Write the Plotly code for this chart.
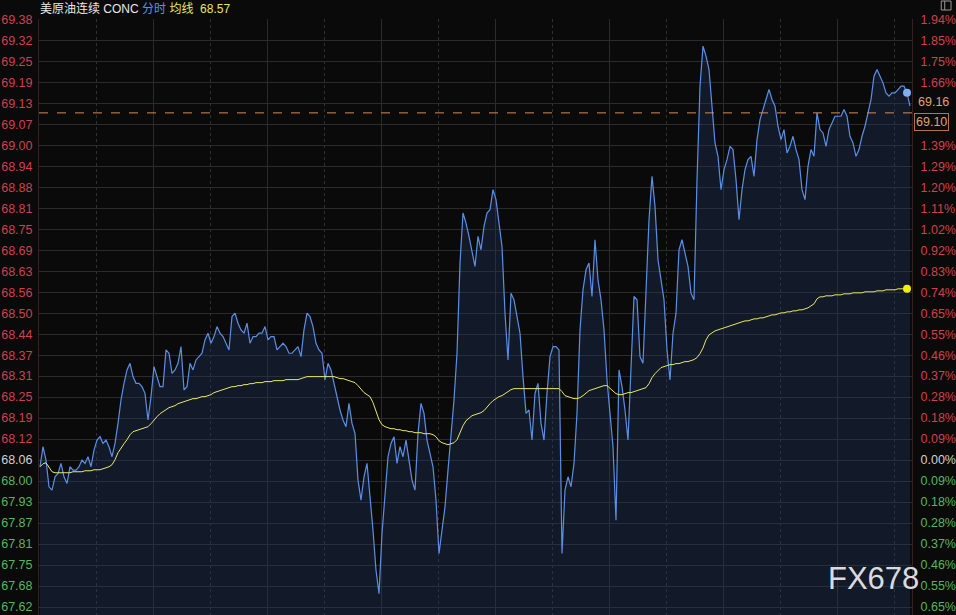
import plotly.graph_objects as go

# ---------------- data ----------------
base_price = 68.06          # previous settle (0.00% line)
ref_price = 69.10           # dashed reference line
title_name = "美原油连续 CONC"

price = [
    68.04, 68.10, 68.06, 67.98, 67.97, 68.01, 68.02, 68.05, 68.01, 67.99,
    68.04, 68.03, 68.03, 68.04, 68.06, 68.05, 68.07, 68.04, 68.09, 68.12,
    68.13, 68.11, 68.12, 68.10, 68.07, 68.11, 68.17, 68.24, 68.29, 68.33,
    68.35, 68.31, 68.29, 68.29, 68.28, 68.26, 68.18, 68.25, 68.34, 68.31,
    68.28, 68.28, 68.39, 68.38, 68.32, 68.33, 68.35, 68.40, 68.27, 68.28,
    68.35, 68.33, 68.36, 68.37, 68.38, 68.42, 68.44, 68.41, 68.43, 68.46,
    68.44, 68.43, 68.41, 68.39, 68.49, 68.50, 68.47, 68.45, 68.44, 68.47,
    68.41, 68.43, 68.43, 68.44, 68.44, 68.46, 68.42, 68.43, 68.43, 68.39,
    68.40, 68.41, 68.40, 68.38, 68.38, 68.39, 68.40, 68.37, 68.45, 68.50,
    68.49, 68.46, 68.41, 68.39, 68.38, 68.30, 68.35, 68.33, 68.29, 68.24,
    68.21, 68.18, 68.16, 68.23, 68.17, 68.14, 68.00, 67.94, 68.01, 68.05,
    67.96, 67.85, 67.73, 67.66, 67.84, 67.97, 68.07, 68.11, 68.13, 68.05,
    68.10, 68.07, 68.12, 68.06, 68.00, 67.97, 68.14, 68.23, 68.20, 68.12,
    68.08, 68.04, 67.94, 67.78, 67.85, 67.92, 68.03, 68.14, 68.24, 68.38,
    68.65, 68.80, 68.77, 68.73, 68.69, 68.64, 68.73, 68.69, 68.76, 68.80,
    68.81, 68.87, 68.84, 68.77, 68.70, 68.50, 68.36, 68.56, 68.54, 68.49,
    68.44, 68.31, 68.20, 68.21, 68.12, 68.26, 68.29, 68.17, 68.12, 68.26,
    68.37, 68.40, 68.40, 68.39, 67.78, 67.97, 68.01, 67.98, 68.05, 68.20,
    68.45, 68.57, 68.63, 68.65, 68.55, 68.72, 68.60, 68.54, 68.45, 68.30,
    68.21, 68.10, 67.88, 68.33, 68.28, 68.21, 68.12, 68.36, 68.55, 68.54,
    68.37, 68.35, 68.56, 68.78, 68.91, 68.82, 68.66, 68.60, 68.54, 68.39,
    68.30, 68.44, 68.50, 68.69, 68.72, 68.68, 68.64, 68.56, 68.54, 68.90,
    69.18, 69.30, 69.27, 69.23, 69.11, 69.01, 68.97, 68.87, 68.93, 68.96,
    69.00, 68.99, 68.90, 68.78, 68.87, 68.93, 68.96, 68.97, 68.91, 69.02,
    69.08, 69.11, 69.14, 69.17, 69.14, 69.12, 69.06, 69.02, 69.05, 68.98,
    69.00, 69.03, 68.99, 68.96, 68.87, 68.84, 68.94, 68.99, 68.97, 69.10,
    69.05, 69.04, 69.00, 69.05, 69.07, 69.09, 69.09, 69.09, 69.11, 69.09,
    69.03, 69.01, 68.97, 68.99, 69.03, 69.06, 69.10, 69.14, 69.21, 69.23,
    69.21, 69.19, 69.16, 69.15, 69.16, 69.16, 69.17, 69.18, 69.18, 69.16,
    69.12,
]

avg = [
    68.040, 68.049, 68.052, 68.037, 68.025, 68.022, 68.022, 68.022, 68.022, 68.022,
    68.022, 68.025, 68.025, 68.025, 68.025, 68.028, 68.028, 68.028, 68.031, 68.031,
    68.031, 68.034, 68.037, 68.040, 68.046, 68.061, 68.082, 68.097, 68.109, 68.121,
    68.136, 68.145, 68.148, 68.151, 68.154, 68.157, 68.160, 68.169, 68.181, 68.190,
    68.199, 68.205, 68.211, 68.217, 68.220, 68.223, 68.229, 68.232, 68.235, 68.238,
    68.241, 68.244, 68.244, 68.247, 68.250, 68.250, 68.253, 68.256, 68.262, 68.265,
    68.268, 68.271, 68.274, 68.277, 68.280, 68.280, 68.283, 68.283, 68.286, 68.286,
    68.289, 68.289, 68.292, 68.292, 68.292, 68.295, 68.295, 68.295, 68.298, 68.298,
    68.298, 68.298, 68.301, 68.301, 68.301, 68.301, 68.301, 68.304, 68.307, 68.310,
    68.310, 68.310, 68.310, 68.310, 68.310, 68.310, 68.310, 68.310, 68.310, 68.307,
    68.304, 68.304, 68.301, 68.298, 68.295, 68.292, 68.283, 68.271, 68.262, 68.256,
    68.250, 68.232, 68.205, 68.181, 68.166, 68.160, 68.157, 68.154, 68.154, 68.151,
    68.151, 68.148, 68.148, 68.145, 68.145, 68.142, 68.142, 68.142, 68.139, 68.139,
    68.139, 68.136, 68.130, 68.118, 68.112, 68.109, 68.106, 68.109, 68.112, 68.121,
    68.145, 68.163, 68.178, 68.187, 68.193, 68.196, 68.199, 68.202, 68.208, 68.220,
    68.229, 68.238, 68.244, 68.250, 68.253, 68.259, 68.265, 68.271, 68.274, 68.274,
    68.274, 68.274, 68.274, 68.274, 68.274, 68.274, 68.274, 68.274, 68.274, 68.274,
    68.274, 68.274, 68.274, 68.274, 68.265, 68.253, 68.250, 68.247, 68.244, 68.244,
    68.247, 68.253, 68.262, 68.268, 68.271, 68.274, 68.277, 68.280, 68.283, 68.283,
    68.274, 68.265, 68.259, 68.256, 68.256, 68.259, 68.262, 68.262, 68.265, 68.268,
    68.271, 68.274, 68.277, 68.289, 68.307, 68.319, 68.328, 68.337, 68.340, 68.343,
    68.346, 68.346, 68.349, 68.349, 68.352, 68.355, 68.355, 68.358, 68.361, 68.367,
    68.379, 68.396, 68.420, 68.435, 68.441, 68.447, 68.450, 68.453, 68.456, 68.459,
    68.462, 68.465, 68.468, 68.471, 68.474, 68.477, 68.477, 68.480, 68.483, 68.483,
    68.486, 68.486, 68.489, 68.492, 68.495, 68.495, 68.498, 68.501, 68.501, 68.504,
    68.504, 68.507, 68.507, 68.510, 68.510, 68.513, 68.516, 68.522, 68.528, 68.543,
    68.549, 68.549, 68.552, 68.552, 68.552, 68.555, 68.555, 68.555, 68.558, 68.558,
    68.558, 68.561, 68.561, 68.561, 68.561, 68.564, 68.564, 68.564, 68.564, 68.567,
    68.567, 68.567, 68.570, 68.570, 68.570, 68.570, 68.573, 68.573, 68.573, 68.573,
    None,
]

left_labels = ["69.38", "69.32", "69.25", "69.19", "69.13", "69.07", "69.00", "68.94",
               "68.88", "68.81", "68.75", "68.69", "68.63", "68.56", "68.50", "68.44",
               "68.37", "68.31", "68.25", "68.19", "68.12", "68.06", "68.00", "67.93",
               "67.87", "67.81", "67.75", "67.68", "67.62"]
right_labels = ["1.94%", "1.85%", "1.75%", "1.66%", "", "", "1.39%", "1.29%",
                "1.20%", "1.11%", "1.02%", "0.92%", "0.83%", "0.74%", "0.65%", "0.55%",
                "0.46%", "0.37%", "0.28%", "0.18%", "0.09%", "0.00%", "0.09%", "0.18%",
                "0.28%", "0.37%", "0.46%", "0.55%", "0.65%"]
step_levels = list(range(21, -8, -1))   # grid rows, in steps of the percent scale
pct_step = 1.94 / 21

# ---------------- styling ----------------
BG = "#0a0a0a"
GRID = "#2b2b2b"
RED = "#d0404a"
GREEN = "#55b75a"
NEUTRAL = "#d0d0d0"
BLUE = "#5b8fe6"
YELLOW = "#e8e860"
ORANGE = "#e0a070"
FONT = "Liberation Sans, Arial, Noto Sans CJK SC, sans-serif"

W, H = 956, 615
ML, MR, MT, MB = 39, 44, 19, 0

t = list(range(len(price)))
cur_i = len(price) - 2          # current point (blue / yellow dots)

def col(k):
    return RED if k > 0 else (NEUTRAL if k == 0 else GREEN)

left_vals = [base_price * (1 + k * pct_step / 100) for k in step_levels]
left_text = [f'<span style="color:{col(k)}">{s}</span>' for k, s in zip(step_levels, left_labels)]
right_vals = [k * pct_step for k in step_levels]
right_text = [f'<span style="color:{col(k)}">{s}</span>' if s else "" for k, s in zip(step_levels, right_labels)]

# y range: top gridline at plot top, bottom extends to page bottom
px_per_step = 21.0
top_price = base_price * (1 + 21 * pct_step / 100)
price_per_px = base_price * pct_step / 100 / px_per_step
plot_h = H - MT - MB
y_lo = top_price - plot_h * price_per_px
y_hi = top_price + 0.3 * price_per_px
pct_lo = (y_lo / base_price - 1) * 100
pct_hi = (y_hi / base_price - 1) * 100

fig = go.Figure()
fig.add_trace(go.Scatter(
    x=t, y=price, mode="lines", line=dict(color=BLUE, width=1.2),
    fill="tozeroy", fillcolor="rgba(32,55,100,0.36)", hoverinfo="skip"))
fig.add_trace(go.Scatter(
    x=t, y=avg, mode="lines", line=dict(color=YELLOW, width=1), hoverinfo="skip"))
fig.add_trace(go.Scatter(
    x=[t[cur_i]], y=[price[cur_i]], mode="markers",
    marker=dict(color="#7fb0f5", size=8), hoverinfo="skip"))
fig.add_trace(go.Scatter(
    x=[t[cur_i]], y=[avg[cur_i]], mode="markers",
    marker=dict(color="#f2f200", size=8), hoverinfo="skip"))
# invisible trace to activate right axis
fig.add_trace(go.Scatter(x=[t[0]], y=[0], yaxis="y2", mode="markers",
                         marker=dict(opacity=0), hoverinfo="skip"))

fig.add_shape(type="line", xref="paper", x0=0, x1=1, yref="y", y0=ref_price, y1=ref_price,
              line=dict(color="#d88a55", width=1, dash="dash"))
# small window icon in the top-right corner
fig.add_shape(type="rect", xref="paper", yref="paper", x0=1.0335, x1=1.0447, y0=1.0151, y1=1.0302,
              line=dict(color="#9a9a9a", width=1), fillcolor="rgba(0,0,0,0)")
fig.add_shape(type="line", xref="paper", yref="paper", x0=1.0375, x1=1.0375, y0=1.0151, y1=1.0302,
              line=dict(color="#9a9a9a", width=1))

title_html = (f'<span style="color:#e8e8e8">{title_name}</span> '
              f'<span style="color:{BLUE}">分时</span> '
              f'<span style="color:{YELLOW}">均线</span>  '
              f'<span style="color:{YELLOW}">{avg[cur_i]:.2f}</span>')

fig.update_layout(
    width=W, height=H, margin=dict(l=ML, r=MR, t=MT, b=MB, autoexpand=False),
    paper_bgcolor=BG, plot_bgcolor=BG, showlegend=False,
    font=dict(family=FONT, size=12, color=NEUTRAL),
    xaxis=dict(range=[-1/3, len(price) - 1 + 2/3], showticklabels=False, zeroline=False,
               showgrid=True, gridcolor=GRID, gridwidth=1, tick0=-1/3, dtick=38,
               minor=dict(showgrid=True, tick0=-1/3, dtick=19, gridcolor="#303030", griddash="dot"),
               showline=False),
    yaxis=dict(range=[y_lo, y_hi], tickmode="array", tickvals=left_vals, ticktext=left_text,
               showgrid=True, gridcolor=GRID, gridwidth=1, zeroline=False, ticks="",
               tickfont=dict(size=12.5), ticklabelstandoff=3, automargin=False,
               showline=True, linecolor="#3a1f22", linewidth=1),
    yaxis2=dict(range=[pct_lo, pct_hi], overlaying="y", side="right", tickmode="array",
                tickvals=right_vals, ticktext=right_text, showgrid=False, zeroline=False,
                ticks="", tickfont=dict(size=12.5), ticklabelstandoff=5, automargin=False,
                showline=True, linecolor="#3a1f22", linewidth=1),
    annotations=[
        dict(xref="paper", yref="paper", x=0, y=1, xanchor="left", yanchor="bottom",
             text=title_html, showarrow=False, font=dict(size=12, family=FONT), yshift=1, xshift=-1),
        dict(xref="paper", yref="y", x=1, y=price[cur_i], xanchor="left", yanchor="top",
             text=f"{price[cur_i]:.2f}", showarrow=False, xshift=4,
             font=dict(size=12.5, color=ORANGE, family=FONT)),
        dict(xref="paper", yref="y", x=1, y=ref_price, xanchor="left", yanchor="top",
             text=f"{ref_price:.2f}", showarrow=False, xshift=2, bordercolor="#b8743c",
             borderwidth=1, borderpad=1, bgcolor=BG,
             font=dict(size=12.5, color=ORANGE, family=FONT)),
        dict(xref="paper", yref="paper", x=1.01, y=0.062, xanchor="right", yanchor="middle",
             text="FX678", showarrow=False,
             font=dict(size=31, color="rgba(240,240,240,0.92)", family="Liberation Sans, Arial")),
    ],
)

fig.write_html("out.html", config={"displayModeBar": False},
               post_script="document.body.style.margin='0';document.body.style.padding='0';"
                           "document.body.style.background='#0a0a0a';")
